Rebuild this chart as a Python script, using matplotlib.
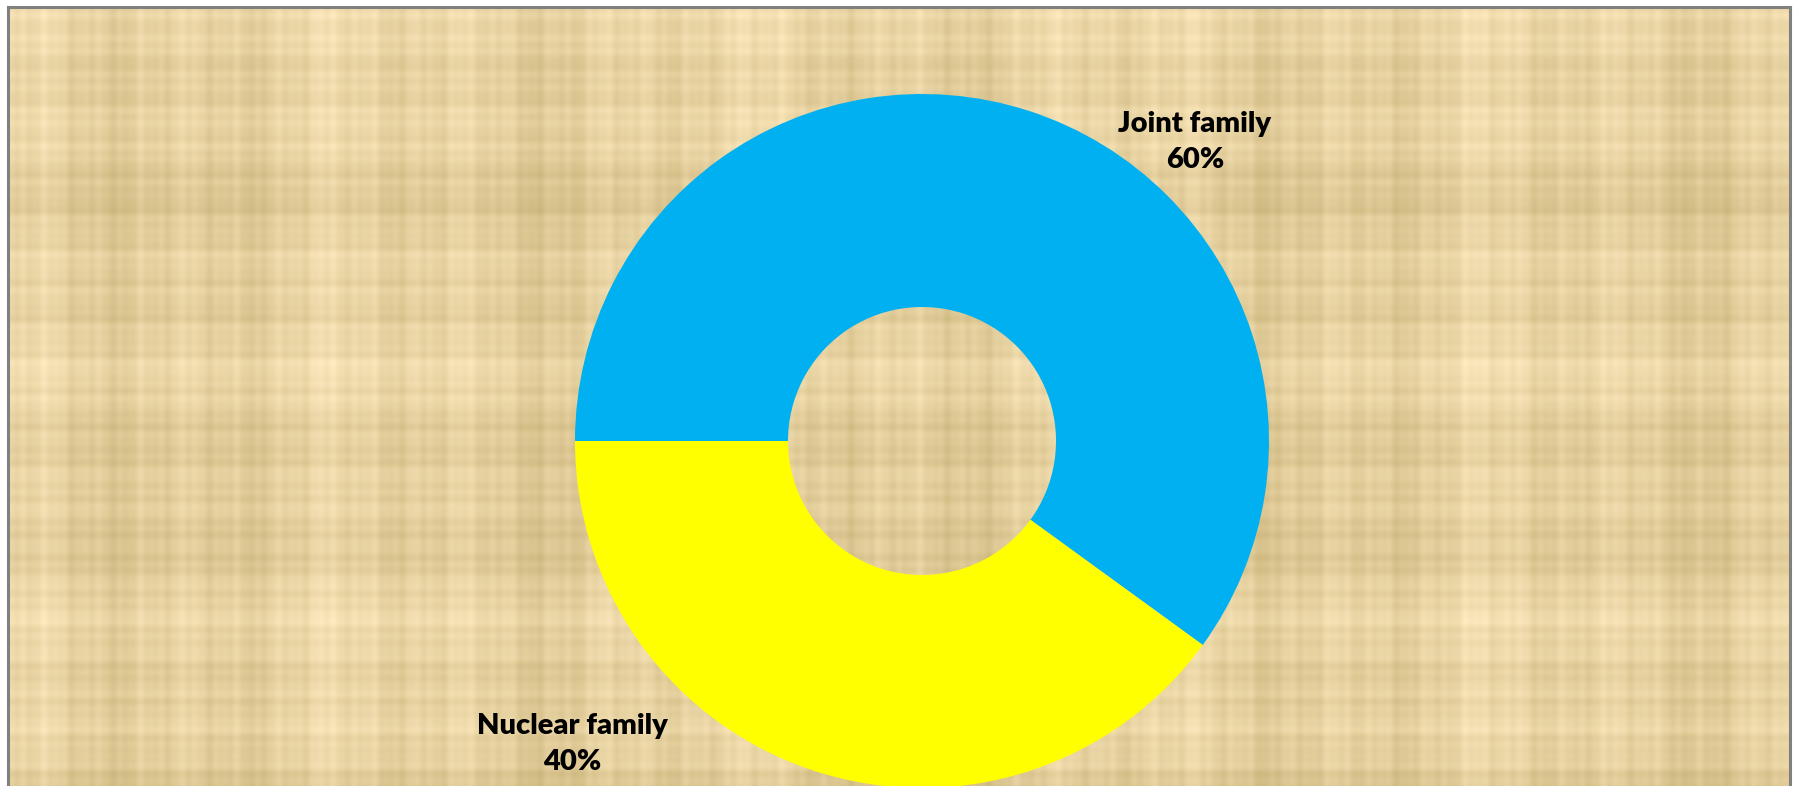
import numpy as np
import matplotlib.pyplot as plt
from matplotlib.lines import Line2D

# Family type shares
labels = ["Joint family", "Nuclear family"]
shares = [60, 40]
colors = ["#00B0F0", "#FFFF00"]

W, H = 1800, 786
fig = plt.figure(figsize=(W / 100, H / 100), dpi=100)
fig.patch.set_facecolor("white")
ax = fig.add_axes([0, 0, 1, 1])
ax.set_xlim(0, W)
ax.set_ylim(0, H)
ax.set_aspect("equal")
ax.axis("off")

# Parchment-like woven background: soft plaid of streaks in x and y
x = np.arange(W)
y = np.arange(H)
col = (0.018 * np.sin(x / 23.0) + 0.014 * np.sin(x / 7.3 + 1.1)
       + 0.012 * np.sin(x / 3.1 + 0.4) + 0.015 * np.sin(x / 61.0 + 2.0)
       + 0.008 * np.sin(x / 1.7 + 0.9))
row = (0.016 * np.sin(y / 19.0 + 0.7) + 0.012 * np.sin(y / 5.7)
       + 0.01 * np.sin(y / 2.9 + 1.9) + 0.015 * np.sin(y / 47.0 + 0.3)
       + 0.008 * np.sin(y / 1.9 + 0.2))
shade = col[None, :] + row[:, None]
base = np.array([230, 209, 160]) / 255.0
tint = np.array([1.0, 1.0, 1.3])
tex = np.clip(base[None, None, :] + shade[:, :, None] * tint[None, None, :], 0, 1)
left, top, right = 8, 7, 1790
ax.imshow(tex[top:, left:right], extent=(left, right, 0, H - top),
          origin="upper", zorder=0, interpolation="bilinear")

# Frame around the chart area
frame = dict(color="#808080", linewidth=2.2, zorder=5)
ax.add_line(Line2D([left, right], [H - top, H - top], **frame))
ax.add_line(Line2D([left, left], [0, H - top], **frame))
ax.add_line(Line2D([right, right], [0, H - top], **frame))

# Doughnut
cx, cy = 922, H - 441
R, r_in = 347, 134
ax.pie(shares, colors=colors, startangle=180, counterclock=False,
       center=(cx, cy), radius=R, frame=True,
       wedgeprops=dict(width=R - r_in, linewidth=0, zorder=2))
ax.set_xlim(0, W)
ax.set_ylim(0, H)
ax.axis("off")

font = dict(family=["Lato", "DejaVu Sans"], fontweight="heavy",
            fontsize=21, color="black", ha="center", va="center",
            linespacing=1.45)
label_pos = [(1195, H - 142), (572, H - 744)]
for name, val, (lx, ly) in zip(labels, shares, label_pos):
    ax.text(lx, ly, f"{name}\n{val}%", zorder=6, **font)

fig.savefig("out.png", dpi=100)
